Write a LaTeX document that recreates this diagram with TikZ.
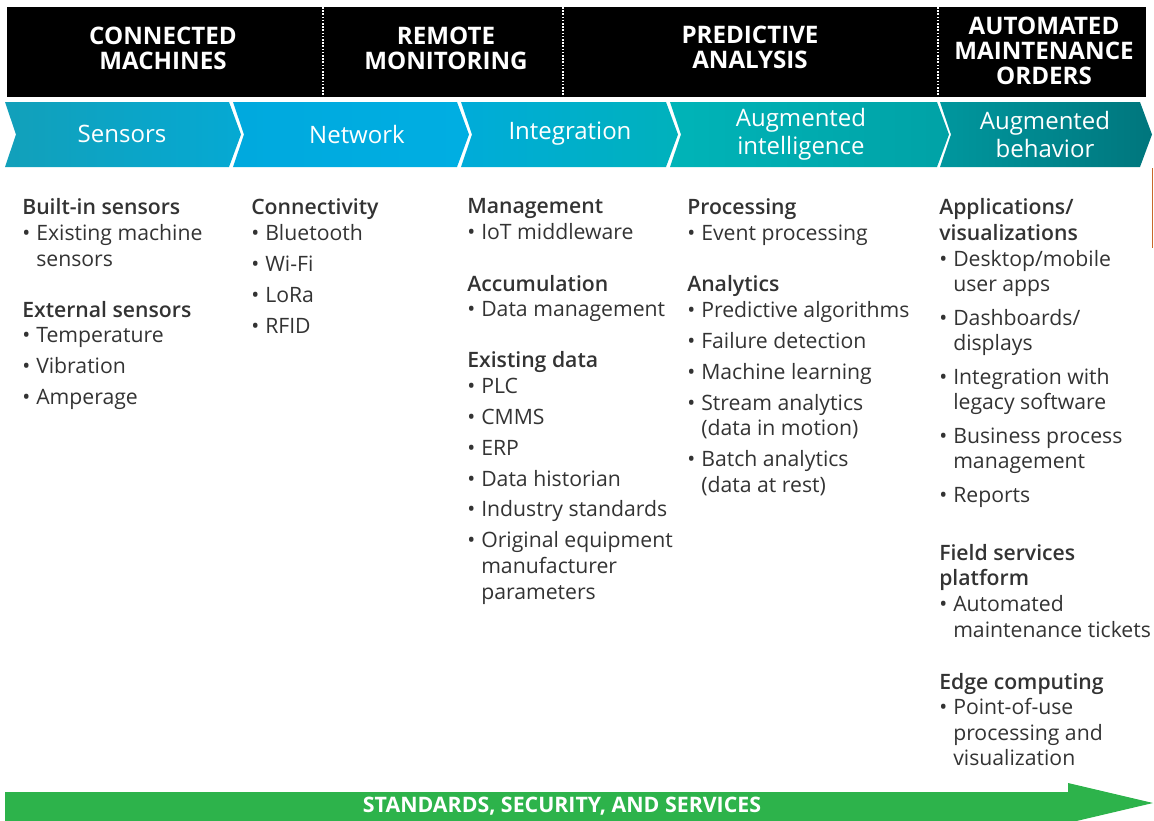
\documentclass[tikz,border=0pt]{standalone}
\usepackage{fontspec}
\setmainfont{Open Sans}
\IfFontExistsTF{Open Sans SemiBold}
  {\newfontfamily\semib{Open Sans SemiBold}}
  {\IfFontExistsTF{Open Sans Semibold}
    {\newfontfamily\semib{Open Sans Semibold}}
    {\newfontfamily\semib{Open Sans}[FakeBold=1.6]}}
\usepackage{xcolor}
\usepackage{tikz}
\definecolor{chSensL}{HTML}{12A0BA}
\definecolor{chSensR}{HTML}{05A9D3}
\definecolor{chNetL}{HTML}{00A9DE}
\definecolor{chNetR}{HTML}{00AEE2}
\definecolor{chIntL}{HTML}{00ACD9}
\definecolor{chIntR}{HTML}{00B1BC}
\definecolor{chIntelL}{HTML}{00B4B8}
\definecolor{chIntelR}{HTML}{00A2A6}
\definecolor{chBehL}{HTML}{00979E}
\definecolor{chBehR}{HTML}{00767D}
\definecolor{stdGreen}{HTML}{2DB34B}
\definecolor{txtGray}{HTML}{333333}
\definecolor{edgeOrange}{HTML}{C8682A}
% bullet and hanging indent for the lists
\newcommand{\itm}{\makebox[10.5pt][l]{\textbullet}}
\newcommand{\cnt}{\hspace*{10.5pt}}

\begin{document}
\begin{tikzpicture}[
  x=0.75pt, y=-0.75pt,
  hdr/.style={text=white, align=center, font=\fontsize{18.1}{18.6}\selectfont\bfseries},
  chev/.style={text=white, align=center, font=\fontsize{18}{21}\selectfont},
  col/.style={anchor=north west, inner sep=0, align=left, text=txtGray,
    font=\fontsize{15.9}{19.2}\selectfont},
  sep/.style={white, line width=1.3pt, dash pattern=on 1.2pt off 1.2pt}
]
\useasboundingbox (0,0) rectangle (1154,821);
% stage header band
\fill[black] (7,7) rectangle (1146,97);
\foreach \x in {323,563,938}{
  \draw[sep] (\x,7) -- (\x,97);
}
\node[hdr] (connected) at (163,48) {CONNECTED\\MACHINES};
\node[hdr] (remote) at (446,48) {REMOTE\\MONITORING};
\node[hdr] (predictive) at (750,47) {PREDICTIVE\\ANALYSIS};
\node[hdr] (orders) at (1044,51) {AUTOMATED\\MAINTENANCE\\ORDERS};
% chevrons
\foreach \xa/\xb/\lcol/\rcol/\lx/\nm/\txt in {
    5/229/chSensL/chSensR/122/sensors/{Sensors},
    233/457/chNetL/chNetR/357/network/{Network},
    461/666/chIntL/chIntR/570/integration/{Integration},
    670/937/chIntelL/chIntelR/801/intelligence/{Augmented\\intelligence},
    940/1140/chBehL/chBehR/1045/behavior/{Augmented\\behavior}}{
  \shade[left color=\lcol, right color=\rcol] (\xa,102) -- (\xb,102) -- (\xb+12,134.5)
    -- (\xb,167) -- (\xa,167) -- (\xa+11,134.5) -- cycle;
  \node[chev] (\nm) at (\lx,134) {\txt};
}
\draw[edgeOrange, line width=1.1pt] (1152.6,168) -- (1152.6,248);
% column lists
\node[col] (colSensors) at (22,198.5) {%
  {\semib Built-in sensors}\\
  \itm Existing machine\\
  \cnt sensors\\[19pt]
  {\semib External sensors}\\
  \itm Temperature\\[4pt]
  \itm Vibration\\[4pt]
  \itm Amperage};
\node[col] (colNetwork) at (251,198.5) {%
  {\semib Connectivity}\\
  \itm Bluetooth\\[4pt]
  \itm Wi-Fi\\[4pt]
  \itm LoRa\\[4pt]
  \itm RFID};
\node[col] (colIntegration) at (467,198.5) {%
  {\semib Management}\\
  \itm IoT middleware\\[19.5pt]
  {\semib Accumulation}\\
  \itm Data management\\[19pt]
  {\semib Existing data}\\
  \itm PLC\\[4pt]
  \itm CMMS\\[4pt]
  \itm ERP\\[4pt]
  \itm Data historian\\[4pt]
  \itm Industry standards\\[4pt]
  \itm Original equipment\\
  \cnt manufacturer\\
  \cnt parameters};
\node[col] (colIntelligence) at (687,198.5) {%
  {\semib Processing}\\
  \itm Event processing\\[19.5pt]
  {\semib Analytics}\\
  \itm Predictive algorithms\\[4pt]
  \itm Failure detection\\[4pt]
  \itm Machine learning\\[4pt]
  \itm Stream analytics\\
  \cnt (data in motion)\\[4pt]
  \itm Batch analytics\\
  \cnt (data at rest)};
\node[col] (colBehavior) at (939,198.5) {%
  {\semib Applications/}\\
  {\semib visualizations}\\
  \itm Desktop/mobile\\
  \cnt user apps\\[5.9pt]
  \itm Dashboards/\\
  \cnt displays\\[5.9pt]
  \itm Integration with\\
  \cnt legacy software\\[5.9pt]
  \itm Business process\\
  \cnt management\\[5.9pt]
  \itm Reports\\[24.3pt]
  {\semib Field services}\\
  {\semib platform}\\
  \itm Automated\\
  \cnt maintenance tickets\\[19.8pt]
  {\semib Edge computing}\\
  \itm Point-of-use\\
  \cnt processing and\\
  \cnt visualization};
% standards arrow
\fill[stdGreen] (5,792) -- (1068,792) -- (1068,783) -- (1153,803) -- (1068,823)
  -- (5,823) -- cycle;
\node[text=white, font=\fontsize{16}{18}\selectfont\bfseries] (standards) at (562,806)
  {STANDARDS, SECURITY, AND SERVICES};
\end{tikzpicture}
\end{document}
